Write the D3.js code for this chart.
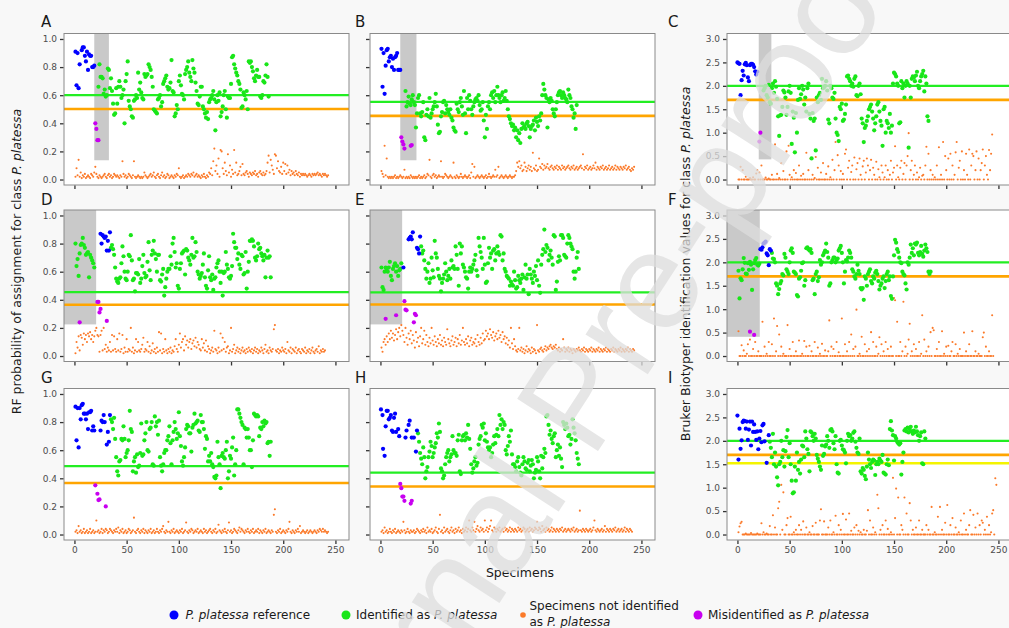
<!DOCTYPE html>
<html><head><meta charset="utf-8">
<script src="https://cdn.jsdelivr.net/npm/d3@7"></script>
<style>
body{margin:0;background:#f8f8f8}
svg{display:block}
text{font-family:"DejaVu Sans",Verdana,sans-serif}
</style>
</head><body>
<svg id="chart" width="1009" height="628"></svg>
<script>
// ---------------- DATA ----------------
const panelIds = ["A","B","C","D","E","F","G","H","I"];
const xTickValues = [0,50,100,150,200,250];
const rfTickValues = [0,0.2,0.4,0.6,0.8,1.0];
const bruTickValues = [0,0.5,1.0,1.5,2.0,2.5,3.0];

const thrGreen  = [0.60,0.552,2.0,0.455,0.453,2.0,0.486,0.441,2.0];
const thrOrange = [0.502,0.453,1.7,0.365,0.367,1.7,0.367,0.342,1.7];
const thrYellowI = 1.52;
// shaded (training) region: [xFrom, xTo, yBottom]
const shadeRegions = [[19,33,0.137],[19,34.5,0.137],[20.4,32.5,0.43],[-10,20.8,0.225],[-10,20.8,0.225],[-10,21.4,0.41],null,null,null];

const orangeStart = 1;
const greenStart = [23,24,25,35,39,33,35,36,31];
const earlyGreenStart = 1;

const blueA=[[1,.91],[2,.67],[3,.9],[4,.65],[5,.82],[7,.92],[8,.94],[9,.94],[10,.88],[11,.84],[12,.91],[13,.78],[14,.89],[15,.88],[16,.88],[17,.8],[18,.8],[19,.81]];
const blueB=[[1,.93],[2,.66],[3,.9],[4,.61],[5,.81],[6,.92],[7,.93],[8,.84],[9,.87],[10,.88],[11,.8],[12,.86],[13,.78],[14,.87],[15,.88],[16,.9],[17,.78],[18,.78],[19,.78]];
const blueC=[[0,2.5],[1,2.48],[2,2.47],[3,1.8],[4,2.12],[5,2.32],[6,2.22],[7,2.46],[8,2.49],[9,2.44],[10,2.18],[11,2.1],[12,2.44],[13,2.47],[14,2.47],[15,2.45],[16,2.4],[17,2.31],[18,2.24],[19,2.3]];
const blueD=[[25,.87],[26,.8],[27,.86],[28,.85],[29,.84],[30,.85],[31,.75],[32,.82],[33,.75],[34,.88]];
const blueE=[[22,.63],[27,.83],[28,.84],[29,.85],[30,.83],[31,.88],[35,.77],[36,.76],[37,.73],[38,.85]];
const blueF=[[22,2.28],[23,2.27],[24,2.32],[25,2.4],[26,2.42],[27,2.44],[28,2.19],[29,2.15],[30,1.94],[31,2.28],[32,2.25]];
const blueG=[[1,.91],[2,.67],[3,.9],[4,.62],[5,.9],[6,.82],[7,.92],[8,.93],[9,.86],[10,.86],[11,.82],[12,.86],[13,.75],[14,.87],[15,.87],[16,.88],[17,.74],[18,.77],[19,.74],[25,.74],[26,.81],[27,.8],[28,.85],[29,.8],[31,.64],[32,.73],[33,.66],[34,.85]];
const blueH=[[0.5,.89],[2,.85],[2.5,.61],[4,.56],[5,.77],[6,.88],[7,.88],[8,.82],[9,.83],[10,.85],[11,.74],[12,.73],[13,.83],[14,.86],[15,.73],[17,.75],[18,.7],[24,.69],[25,.74],[27,.78],[28,.81],[30,.69],[32,.69],[34,.59],[35,.74]];
const blueI=[[0,2.54],[1,1.6],[2,2.26],[3,1.83],[4,2.01],[5,2.4],[6,2.43],[7,2.42],[8,2.26],[9,2.41],[10,2.02],[11,2.24],[12,2.41],[13,1.9],[14,2.41],[15,2.19],[16,2.35],[17,2.19],[18,2.02],[19,2.2],[20,1.82],[21,2.05],[22,2.21],[23,1.97],[24,2.33],[25,2.36],[26,1.99],[28,1.53],[30,2.12]];

const magA=[[20,.4],[21,.36],[22,.28],[23,.28]];
const magB=[[20,.3],[21,.27],[22,.25],[23,.22],[29,.24],[30,.245]];
const magC=[[21,.81],[22,1.0]];
const magD=[[5,.24],[22,.385],[23,.385],[24,.31],[25,.335],[31,.25]];
const magE=[[5,.265],[15,.29],[23,.39],[24,.33],[25,.325],[32,.24],[33,.3],[34,.29]];
const magF=[[12,.52],[16,.45]];
const magG=[[20,.35],[22,.29],[23,.245],[24,.25],[30,.2]];
const magH=[[19,.36],[20,.33],[21,.27],[22,.27],[23,.24],[29,.22],[30,.24]];
const magI=[];

const earlyGreenD=[.8,.64,.69,.57,.73,.79,.8,.84,.79,.77,.72,.73,.74,.56,.72,.7,.68,.66,.63];
const earlyGreenE=[.63,.49,.47,.6,.63,.62,.6,.63,.67,.57,.54,.62,.64,.66,.6,.64,.57,.61,.62,.66];
const earlyGreenF=[1.82,1.23,1.66,1.62,1.85,2.09,1.99,1.76,1.75,1.98,1.84,2.01,1.95,1.41,1.85,1.98,2.05,2.09,1.95,1.93,1.97];

const greenA=[.66,.82,.73,.73,.72,.61,.64,.59,.6,.79,.78,.65,.72,
.63,.54,.46,.47,.65,.54,.66,.7,.66,.58,.6,.64,.4,.7,.75,.84,.56,.52,.5,.45,
.44,.56,.57,.6,.58,.76,.64,.69,.62,.58,.57,.75,.73,.74,.75,.82,.8,.78,.73,.66,.5,.49,.48,.47,.57,
.58,.6,.52,.55,.68,.7,.72,.74,.66,.64,.65,.69,.85,.63,.62,.45,.47,.53,.5,.7,
.74,.67,.61,.6,.57,.75,.78,.8,.84,.76,.73,.7,.85,.79,.76,.69,.63,.54,.53,.59,
.66,.66,.52,.5,.47,.44,.48,.43,.55,.57,.58,.6,.63,.57,.35,.55,.6,.56,.62,.45,
.48,.52,.6,.63,.5,.44,.59,.58,.58,.68,.87,.88,.82,.79,.76,.74,.7,.68,.64,.51,
.52,.62,.6,.57,.63,.5,.84,.83,.84,.8,.77,.72,.7,.74,.78,.73,.73,.59,.58,.6,.7,.69,.74,.82,.73,.59];
const greenB=[.63,.52,.55,.59,.54,.53,.57,.6,.55,.53,.37,.47,.58,.6,.47,.45,
.48,.55,.3,.28,.46,.5,.45,.58,.44,.47,.5,.52,.55,.61,.52,.39,.33,.34,.45,.48,
.55,.56,.47,.53,.5,.48,.46,.5,.44,.42,.37,.35,.34,.54,.5,.48,.55,.58,.52,.46,
.63,.47,.33,.58,.5,.6,.56,.5,.46,.52,.55,.57,.58,.56,.6,.53,.49,.5,.55,.42,
.3,.46,.36,.52,.55,.5,.6,.62,.58,.63,.55,.6,.66,.6,.58,.55,.6,.62,.56,.58,
.63,.56,.5,.45,.43,.4,.38,.39,.35,.37,.3,.35,.28,.33,.26,.36,.4,.37,.38,.36,
.4,.41,.38,.3,.36,.38,.39,.42,.35,.44,.41,.38,.45,.42,.47,.6,.68,.64,.6,.58,
.37,.57,.55,.58,.56,.5,.47,.45,.5,.55,.6,.62,.63,.6,.58,.62,.6,.58,.57,.55,.64,.6,.58,.52,.5,.44,.47,.36,.53];
const greenC=[1.9,1.95,2.0,1.8,1.75,2.02,1.65,1.62,1.95,2.05,1.85,2.1,1.98,1.72,
1.35,.93,1.37,1.38,1.55,1.9,1.86,1.75,1.38,1.55,1.88,2.0,1.85,.76,1.45,
1.32,.58,1.42,1.0,1.7,1.95,1.72,1.82,2.0,1.92,1.6,1.75,1.45,1.95,2.05,
1.4,1.3,.45,1.42,1.25,1.3,.62,1.75,1.65,1.8,1.85,1.7,2.15,1.95,1.97,
2.0,2.1,1.9,1.28,1.2,2.0,1.95,1.75,1.72,1.85,1.3,1.0,.95,.82,1.55,
1.5,1.62,1.25,1.28,1.4,1.6,2.2,2.22,2.15,2.1,2.0,2.05,1.98,2.15,2.2,
1.8,1.78,2.0,2.05,1.82,1.3,1.2,.8,1.1,1.15,1.25,1.35,1.5,1.55,1.6,
1.45,1.3,1.05,1.2,1.35,1.6,1.65,1.45,1.25,1.15,.72,1.5,1.55,1.0,1.25,
1.2,1.1,1.4,1.0,1.15,2.05,2.28,2.25,2.2,2.05,2.0,1.2,1.22,2.1,1.95,
2.05,1.75,2.0,2.1,2.05,.68,2.0,1.75,2.15,2.2,2.18,2.1,2.22,2.3,2.0,1.95,2.1,2.2,2.25,2.32,1.88,2.2,2.05,1.35,1.25];
const greenD=[.77,.79,.76,.72,.63,.55,.53,.52,.55,.56,.66,.78,.71,.6,.55,
.54,.6,.72,.71,.86,.68,.54,.55,.46,.59,.59,.58,.69,.52,.55,
.64,.72,.59,.56,.57,.67,.81,.61,.54,.72,.75,.82,.73,.69,.6,
.72,.72,.54,.53,.58,.62,.43,.49,.55,.6,.62,.62,.71,.65,.8,
.84,.74,.63,.66,.5,.48,.62,.66,.73,.74,.75,.58,.76,.75,.7,
.68,.65,.72,.84,.7,.71,.81,.74,.6,.58,.55,.57,.59,.65,.73,
.56,.5,.48,.61,.71,.56,.54,.58,.47,.55,.56,.63,.66,.68,.6,
.52,.6,.43,.59,.6,.74,.65,.62,.56,.55,.57,.64,.87,.81,.77,
.77,.69,.73,.65,.62,.72,.71,.58,.59,.74,.48,.6,.67,.82,.82,
.83,.82,.78,.7,.68,.71,.8,.76,.77,.73,.71,.68,.72,.56,.7,.75,.7,.71,.56];
const greenE=[.78,.73,.75,.68,.62,.55,.6,.66,.52,.55,.7,.61,.56,.82,.73,
.7,.62,.57,.55,.46,.52,.55,.58,.66,.6,.54,.57,.62,.55,.68,
.63,.64,.62,.78,.72,.62,.5,.8,.73,.78,.65,.63,.6,.56,.55,
.48,.6,.63,.6,.62,.65,.68,.72,.61,.57,.84,.78,.74,.7,.62,
.84,.65,.52,.53,.66,.77,.7,.73,.62,.75,.76,.68,.73,.78,.74,
.72,.86,.85,.68,.73,.62,.6,.57,.56,.55,.5,.53,.51,.5,.6,
.54,.48,.49,.57,.54,.52,.55,.58,.47,.56,.65,.55,.58,.44,.62,
.58,.55,.52,.6,.57,.64,.54,.68,.5,.45,.65,.72,.76,.9,.74,
.79,.77,.68,.72,.75,.7,.65,.86,.85,.47,.53,.67,.71,.68,.86,
.86,.84,.72,.71,.7,.8,.86,.84,.8,.78,.76,.6,.55,.6,.7,.74,.62];
const greenF=[2.2,2.08,2.07,2.0,1.55,1.5,1.32,1.43,1.55,1.6,1.75,1.72,2.18,2.1,1.85,1.8,1.75,2.0,2.25,2.3,
2.2,1.8,1.78,1.75,1.3,1.27,1.65,1.68,1.82,1.98,2.0,1.5,1.62,2.3,2.32,2.28,2.25,
2.28,2.2,1.62,1.65,1.32,1.75,1.8,1.6,1.68,2.05,1.95,2.0,2.15,2.2,2.25,2.4,
2.22,2.1,1.5,1.55,2.0,2.05,2.1,2.1,2.0,2.05,2.08,2.25,2.3,2.35,2.2,2.0,
1.55,1.8,2.05,2.02,2.1,2.25,2.2,2.1,1.85,1.8,1.7,1.65,1.75,1.95,1.82,1.75,
1.45,1.42,1.45,1.2,1.7,1.65,1.5,1.75,1.8,1.85,1.6,1.55,1.7,1.65,1.78,1.82,
1.75,1.6,1.42,1.5,1.55,1.65,1.7,1.45,1.6,1.75,1.8,1.62,1.7,1.28,1.22,1.7,
2.15,2.48,2.42,2.28,2.22,2.1,2.0,1.98,1.8,1.75,1.72,1.55,1.42,2.0,1.95,2.1,
2.38,2.2,2.3,2.15,2.4,2.38,2.42,2.2,2.15,2.22,2.35,2.18,2.12,2.25,2.38,2.3,2.22,1.8,1.75,1.8];
const greenG=[.82,.8,.75,.83,.68,.55,.45,.42,.52,.53,.68,.67,.77,.68,.55,.58,
.6,.67,.88,.75,.73,.45,.52,.55,.44,.57,.48,.49,.58,.79,
.56,.57,.67,.72,.8,.6,.59,.75,.76,.8,.5,.49,.84,.77,.8,
.71,.81,.55,.49,.45,.5,.58,.6,.6,.67,.7,.77,.65,.5,
.67,.73,.8,.75,.68,.72,.87,.7,.63,.52,.49,.55,.62,.75,
.78,.77,.72,.72,.59,.76,.78,.86,.79,.8,.81,.74,.73,.85,.8,
.8,.75,.61,.7,.68,.52,.56,.52,.58,.5,.48,.41,.4,.42,
.66,.55,.5,.33,.56,.58,.55,.54,.6,.66,.4,.45,.56,.54,.62,
.69,.42,.5,.6,.89,.89,.86,.83,.8,.78,.5,.76,.75,.69,
.75,.69,.6,.6,.48,.67,.86,.85,.84,.85,.84,.7,.76,.75,.8,.77,.81,.79,.8,.65,.66,.56,.66];
const greenH=[.72,.66,.58,.54,.5,.62,.55,.4,.45,.48,.55,.59,.66,.63,.55,
.58,.62,.65,.72,.69,.79,.73,.47,.45,.4,.42,.5,.55,.58,.6,
.52,.55,.57,.7,.6,.58,.58,.56,.67,.71,.45,.43,.67,.7,.71,
.67,.72,.69,.78,.68,.61,.5,.44,.47,.52,.55,.49,.51,.64,.68,
.7,.78,.76,.79,.67,.72,.66,.62,.6,.62,.55,.58,.64,.7,.65,
.71,.75,.7,.85,.78,.82,.75,.8,.78,.6,.57,.63,.7,.66,.74,
.57,.5,.5,.48,.45,.52,.55,.48,.44,.42,.5,.55,.52,.47,.46,
.51,.53,.45,.49,.53,.5,.4,.44,.46,.55,.52,.45,.4,.56,.47,
.55,.61,.58,.84,.85,.78,.71,.74,.68,.65,.7,.72,.55,.6,.64,
.56,.62,.54,.48,.8,.78,.75,.79,.76,.7,.71,.64,.68,.82,.76,.72,.67,.58,.54,.5];
const greenI=[1.98,1.85,1.65,2.15,1.5,1.75,1.45,1.22,1.05,1.5,1.55,2.0,1.65,1.8,
1.45,1.78,2.08,2.23,1.65,1.95,1.5,1.15,.88,.9,1.45,1.15,1.75,1.38,
1.55,1.3,1.6,1.9,1.88,1.65,2.2,2.05,1.82,1.72,1.35,2.2,2.18,2.1,2.0,
2.15,2.05,1.7,1.62,1.55,1.45,1.38,1.9,1.68,1.72,1.88,1.92,2.1,2.0,1.85,
2.23,2.25,2.2,1.95,1.82,2.1,1.5,1.32,1.3,2.0,2.02,1.9,1.82,1.8,1.75,
1.52,2.0,2.15,2.1,2.12,2.0,2.05,2.17,2.2,1.98,1.85,1.75,1.72,2.05,
1.35,1.3,1.42,1.38,1.25,1.18,1.45,1.75,1.6,1.5,1.42,1.55,1.6,1.58,1.27,
1.5,1.55,1.5,1.62,1.58,1.55,1.7,1.32,1.3,1.28,1.5,1.6,1.48,2.25,
2.42,2.22,2.12,1.58,2.1,2.05,1.98,1.95,1.92,1.95,1.28,1.55,1.75,2.22,
2.25,2.2,2.28,2.18,2.25,2.3,2.2,2.15,2.22,2.18,2.3,2.2,2.12,2.0,2.1,2.18,1.52,1.5,2.2,2.05];

const orangeA=[.02,.08,.03,.14,.02,.05,.01,.03,.02,.04,.01,.02,.03,.02,.01,.04,.03,.02,.05,.09,
.04,.02,.01,.03,.02,.01,.02,.03,.04,.02,.01,.03,.04,.02,.03,.01,.02,.04,.03,.02,
.03,.02,.01,.03,.02,.13,.04,.02,.03,.01,.02,.04,.03,.02,.01,.03,.13,.02,.01,.02,
.03,.02,.01,.02,.01,.02,.05,.03,.02,.01,.02,.03,.04,.02,.03,.05,.02,.01,.03,.04,
.02,.01,.03,.05,.02,.03,.01,.02,.04,.03,.01,.02,.03,.02,.01,.03,.02,.04,.03,.08,
.02,.01,.02,.03,.01,.02,.03,.02,.04,.03,.02,.04,.03,.05,.02,.03,.04,.02,.03,.02,
.01,.03,.02,.04,.02,.01,.03,.02,.05,.04,.08,.03,.13,.22,.06,.1,.04,.15,.02,.21,
.2,.08,.04,.12,.06,.03,.18,.05,.1,.02,.07,.04,.21,.05,.12,.03,.04,.06,.09,.03,
.11,.04,.03,.05,.06,.04,.02,.05,.04,.03,.05,.04,.06,.03,.04,.02,.05,.06,.04,.03,
.05,.03,.04,.06,.12,.17,.05,.14,.1,.07,.04,.18,.17,.08,.13,.06,.05,.09,.04,.12,
.06,.11,.04,.1,.05,.07,.03,.06,.04,.05,.03,.06,.04,.03,.05,.02,.04,.03,.04,.03,
.04,.03,.02,.03,.04,.03,.02,.04,.03,.04,.03,.04,.05,.03,.04,.03,.02,.04,.03,.04,.03,.02,.03];
const orangeB=[.06,.04,.02,.24,.03,.15,.02,.01,.02,.01,.02,.01,.02,.03,.01,.02,.01,.02,.03,.02,
.01,.02,.07,.01,.02,.01,.02,.01,.03,.02,.01,.02,.01,.02,.01,.02,.03,.01,.02,.01,
.02,.03,.01,.02,.04,.03,.14,.02,.01,.03,.04,.02,.03,.01,.02,.03,.02,.13,.02,.01,
.02,.04,.03,.02,.01,.02,.03,.02,.01,.12,.02,.01,.03,.02,.01,.02,.04,.02,.01,.02,
.03,.02,.01,.02,.03,.01,.05,.11,.02,.09,.01,.02,.03,.02,.01,.02,.03,.02,.01,.02,
.03,.01,.02,.04,.02,.01,.02,.03,.02,.07,.02,.03,.09,.01,.02,.03,.02,.01,.02,.03,
.02,.01,.02,.03,.02,.01,.02,.02,.03,.06,.12,.09,.13,.08,.1,.06,.07,.12,.09,.06,
.08,.1,.07,.09,.06,.19,.08,.07,.1,.06,.07,.15,.09,.08,.11,.07,.1,.08,.09,.11,
.08,.07,.09,.1,.08,.07,.09,.08,.1,.07,.09,.08,.07,.1,.08,.09,.07,.08,.09,.1,
.08,.07,.09,.08,.1,.07,.08,.09,.07,.08,.09,.1,.08,.18,.07,.09,.08,.1,.07,.08,
.09,.07,.08,.1,.08,.12,.07,.09,.08,.07,.09,.08,.1,.07,.08,.09,.07,.08,.1,.07,
.08,.09,.07,.08,.1,.07,.09,.08,.07,.09,.08,.07,.09,.08,.1,.07,.08,.09,.07,.06,.08,.07,.09];
const orangeC=[0,0,.27,0,.2,0,0,.06,0,0,0,.03,0,0,.05,0,0,.13,.2,0,
.15,0,.3,0,0,0,.04,0,0,.02,0,0,.1,0,0,.75,0,.12,0,.03,
0,.35,0,.18,0,0,.6,0,.72,.1,0,.05,0,.2,0,.14,0,0,.3,0,
.08,0,.12,0,0,.57,0,.2,0,.45,0,.1,0,.03,.48,0,.25,0,0,.15,
0,.35,0,0,.12,0,.28,0,.05,0,.42,0,.2,.8,0,.52,.3,0,.18,0,
.12,0,.55,.64,0,.25,.4,0,.16,.3,0,.47,0,.22,.35,0,.45,.1,0,.28,
.4,0,.15,.45,.3,0,.2,.42,0,.25,.1,0,.38,0,.22,.05,0,.3,.15,0,
.05,.3,0,.2,0,.1,.4,0,.15,.25,.71,0,.3,.05,0,.25,.4,0,.12,.35,
0,.3,.5,.99,0,.2,.4,0,.1,.3,0,.15,0,.05,.25,0,.08,.1,0,.3,
.7,0,.55,0,.2,0,.1,0,.05,0,.3,0,.69,0,.1,0,.8,0,.5,.2,
0,.45,0,.55,0,.3,0,.1,.58,.8,0,.25,.4,0,.6,0,.2,0,.55,.1,
0,.64,0,.3,.55,.5,0,.2,.6,0,.45,0,.2,.35,.64,0,.3,.5,.1,0,.63,.2,.55,.96];
const orangeD=[.02,.1,.06,.14,.04,.15,.13,.08,.16,.12,.15,.1,.16,.14,.17,.12,.15,.1,.14,.18,
.2,.15,.14,.03,.15,.18,.04,.2,.05,.08,.03,.06,.04,.1,.03,.15,.04,.14,.05,.03,
.12,.04,.16,.03,.05,.15,.02,.06,.03,.12,.03,.05,.04,.2,.03,.06,.02,.04,.12,.03,
.1,.04,.03,.05,.08,.13,.03,.05,.04,.1,.03,.07,.02,.04,.09,.03,.05,.02,.06,.03,
.17,.04,.16,.02,.05,.03,.12,.04,.02,.05,.03,.06,.02,.04,.03,.07,.12,.05,.03,.08,
.16,.06,.1,.12,.04,.14,.08,.11,.06,.1,.12,.05,.09,.11,.07,.13,.06,.1,.08,.05,
.04,.12,.06,.09,.04,.11,.03,.07,.05,.02,.04,.06,.03,.18,.05,.04,.02,.06,.03,.16,
.04,.13,.05,.1,.03,.06,.07,.02,.04,.2,.03,.05,.08,.02,.04,.06,.03,.05,.02,.04,
.06,.03,.04,.02,.05,.03,.06,.04,.03,.05,.02,.04,.06,.03,.05,.02,.04,.03,.06,.04,
.02,.05,.08,.03,.04,.02,.06,.04,.03,.05,.19,.22,.04,.03,.05,.02,.04,.03,.06,.04,
.03,.05,.02,.1,.04,.03,.06,.02,.05,.04,.03,.06,.02,.04,.05,.03,.02,.05,.04,.03,
.06,.02,.04,.03,.05,.02,.04,.06,.03,.02,.04,.05,.03,.07,.02,.04,.03,.05,.03,.04];
const orangeE=[.06,.03,.1,.12,.08,.14,.1,.16,.12,.18,.13,.16,.11,.15,.19,.12,.17,.2,.14,.22,
.18,.15,.1,.2,.13,.08,.16,.12,.18,.09,.15,.11,.06,.17,.1,.13,.07,.14,.2,.09,
.12,.18,.08,.15,.1,.07,.13,.09,.2,.11,.08,.14,.1,.07,.12,.09,.15,.08,.11,.07,
.13,.1,.08,.19,.12,.09,.07,.11,.14,.08,.1,.13,.07,.12,.09,.15,.08,.11,.2,.1,
.08,.12,.09,.14,.07,.11,.13,.08,.1,.09,.12,.07,.15,.1,.08,.13,.09,.16,.11,.12,
.18,.14,.16,.12,.19,.15,.13,.17,.11,.14,.16,.12,.18,.13,.15,.1,.17,.12,.14,.09,
.13,.08,.11,.06,.2,.09,.05,.12,.07,.04,.03,.05,.2,.04,.06,.03,.05,.02,.04,.07,
.03,.05,.04,.02,.06,.03,.05,.04,.02,.22,.04,.03,.05,.06,.04,.03,.05,.07,.04,.06,
.05,.07,.08,.06,.05,.07,.06,.08,.05,.04,.06,.03,.05,.04,.12,.06,.03,.05,.04,.06,
.03,.05,.04,.02,.05,.04,.03,.05,.04,.06,.04,.03,.05,.04,.06,.03,.05,.04,.03,.05,
.04,.06,.03,.05,.04,.03,.05,.04,.06,.03,.05,.04,.03,.05,.04,.06,.03,.05,.04,.03,
.05,.04,.06,.03,.05,.04,.03,.05,.04,.06,.03,.05,.04,.03,.05,.04,.06,.03,.05,.04,.03,.05,.04];
const orangeF=[.53,0,0,.23,0,.12,0,0,.05,.25,0,.35,0,0,.15,0,.3,0,0,.1,
0,0,0,.73,0,.2,0,.05,0,.3,0,0,.25,0,.8,0,.1,.64,0,.46,
0,.2,0,.05,0,0,0,.66,0,.15,0,0,.3,0,0,.1,0,0,.33,0,
0,.05,0,.32,0,.2,0,0,.22,0,.1,0,0,.3,0,0,.18,0,.05,0,
.26,0,0,.12,0,0,.1,.76,0,.2,0,.15,0,0,.3,0,.08,0,0,.8,
0,0,.25,0,.1,0,.3,0,.46,0,.15,0,.2,.99,0,0,.05,0,.41,0,
0,.25,0,.1,0,.15,0,.51,0,.3,0,0,.2,0,.05,.4,0,.25,0,.1,
0,.3,0,.15,0,0,.2,0,0,1.24,1.19,0,.73,0,0,.3,0,.1,1.16,0,
.2,0,.05,.35,.69,0,.1,0,.25,0,.15,0,0,.3,0,.05,.87,0,.35,0,
.1,0,.2,0,.51,0,.6,.55,0,0,.15,0,.3,0,0,.53,0,.05,0,.2,
0,.22,0,0,.1,.3,0,0,.25,0,.05,0,.15,0,0,0,.5,0,.1,0,
0,.25,0,0,.53,0,0,.1,0,0,.05,0,0,0,.4,.5,0,.2,0,0,.1,0,0,.87,0];
const orangeG=[.02,.03,.01,.06,.02,.03,.01,.02,.04,.01,.02,.03,.01,.02,.04,.01,.02,.03,.01,.02,
.1,.02,.03,.01,.02,.04,.01,.03,.02,.04,.03,.01,.02,.04,.03,.02,.01,.03,.02,.04,
.02,.05,.01,.03,.02,.04,.01,.02,.03,.01,.02,.04,.03,.01,.02,.03,.12,.02,.01,.03,
.04,.02,.01,.03,.02,.04,.01,.03,.02,.01,.03,.02,.04,.01,.02,.03,.01,.02,.04,.02,
.01,.03,.02,.04,.06,.02,.01,.03,.02,.09,.02,.01,.03,.02,.04,.01,.02,.03,.02,.01,
.03,.02,.04,.01,.02,.03,.085,.02,.01,.03,.02,.04,.03,.01,.02,.03,.02,.04,.01,.02,
.03,.02,.01,.04,.02,.03,.01,.02,.03,.04,.02,.01,.03,.02,.04,.01,.02,.07,.03,.02,
.01,.03,.02,.04,.02,.01,.03,.085,.02,.03,.01,.02,.04,.03,.02,.01,.03,.05,.02,.04,
.03,.02,.01,.03,.02,.04,.02,.01,.03,.02,.04,.01,.02,.03,.02,.04,.01,.03,.02,.01,
.03,.02,.04,.01,.02,.03,.02,.01,.03,.02,.14,.18,.02,.01,.03,.02,.04,.01,.02,.03,
.02,.01,.03,.02,.04,.09,.02,.01,.03,.02,.01,.03,.02,.04,.02,.06,.01,.02,.03,.02,
.01,.02,.03,.01,.02,.03,.02,.01,.02,.03,.02,.01,.03,.02,.04,.03,.02,.04,.02,.03,.02,.01,.02];
const orangeH=[.02,.03,.01,.05,.02,.03,.01,.02,.04,.02,.01,.03,.02,.04,.01,.02,.03,.02,.01,.03,
.02,.09,.03,.01,.02,.04,.02,.01,.03,.02,.02,.03,.01,.02,.04,.03,.02,.01,.03,.02,
.04,.02,.03,.01,.05,.02,.03,.02,.04,.01,.02,.03,.05,.02,.01,.04,.14,.02,.03,.01,
.05,.02,.03,.04,.02,.01,.03,.05,.02,.03,.01,.04,.02,.03,.05,.02,.03,.01,.04,.02,
.03,.05,.02,.04,.1,.03,.02,.05,.03,.09,.02,.04,.06,.03,.02,.05,.03,.04,.02,.1,
.03,.05,.02,.04,.06,.1,.03,.02,.05,.04,.02,.04,.03,.05,.02,.03,.04,.02,.05,.03,
.04,.02,.03,.05,.02,.04,.03,.02,.04,.03,.02,.05,.03,.04,.02,.03,.05,.04,.02,.03,
.04,.02,.05,.03,.04,.02,.03,.05,.04,.09,.03,.05,.04,.02,.06,.03,.04,.02,.05,.03,
.04,.02,.03,.05,.02,.04,.03,.02,.04,.03,.02,.04,.03,.05,.02,.03,.04,.02,.03,.04,
.03,.02,.04,.03,.05,.02,.03,.04,.02,.03,.17,.03,.02,.04,.03,.02,.04,.03,.02,.03,
.04,.02,.03,.05,.1,.03,.02,.04,.03,.02,.03,.04,.02,.03,.06,.02,.04,.03,.02,.04,
.03,.02,.04,.03,.05,.02,.03,.04,.02,.03,.04,.02,.03,.05,.02,.04,.03,.02,.04,.03,.02];
const orangeI=[.05,.17,.24,.27,0,0,0,.02,0,0,0,0,.03,0,0,0,0,0,.02,0,
0,0,.24,0,.05,0,0,.02,0,0,.18,0,0,.41,0,.15,0,0,.56,.7,
0,1.06,.1,.9,0,0,.2,.35,0,0,.38,0,0,.05,0,.1,0,0,.2,0,
.1,0,.28,0,0,.15,0,0,.05,0,0,.18,0,0,.25,0,0,0,.3,.54,
0,0,.28,0,0,0,.15,0,.3,0,0,.05,0,.4,0,0,.2,0,.1,0,
.44,0,0,.32,0,0,.45,0,.08,0,0,.15,0,.2,0,.08,0,.05,0,0,
.1,0,0,.08,.52,0,.3,0,0,.15,0,.05,0,.85,.56,0,.1,0,.2,0,
0,.3,0,.12,0,0,.05,0,1.21,0,.35,.98,0,.79,0,0,.2,.1,0,.79,
0,.45,0,0,.67,.3,0,.1,0,0,.15,0,0,.3,0,0,.1,0,0,0,
.2,0,.1,0,0,.59,0,0,.05,0,0,.38,0,.59,0,.1,0,0,.25,0,
.63,0,0,.2,0,.35,0,0,.15,0,0,.05,0,.3,0,0,.45,0,.1,0,
0,.2,.52,0,0,.42,0,.15,0,.45,0,.2,0,.3,.25,0,.1,0,.38,0,.2,0,.05,.45,.52,0,1.2,1.06];

const legendLabels = [
  [["P. platessa",true],[" reference",false]],
  [["Identified as ",false],["P. platessa",true]],
  [["Specimens not identified",false]],
  [["Misidentified as ",false],["P. platessa",true]]
];
const legendLabelLine2 = [["as ",false],["P. platessa",true]];

// ---------------- DRAW ----------------
const COL = {blue:"#0000ff", green:"#19e619", orange:"#fb7a2a", magenta:"#c800f0",
  lineGreen:"#22ee22", lineOrange:"#ffa500", lineYellow:"#f4f400", shade:"#c9c9c9"};

const blues=[blueA,blueB,blueC,blueD,blueE,blueF,blueG,blueH,blueI];
const mags=[magA,magB,magC,magD,magE,magF,magG,magH,magI];
const greens=[greenA,greenB,greenC,greenD,greenE,greenF,greenG,greenH,greenI];
const earlyGreens=[null,null,null,earlyGreenD,earlyGreenE,earlyGreenF,null,null,null];
const oranges=[orangeA,orangeB,orangeC,orangeD,orangeE,orangeF,orangeG,orangeH,orangeI];

const svg=d3.select("#chart");
const colLeft=[64,370,727], rowTop=[33.5,210,388.5], PW=285, PH=151.5;
const defs=svg.append("defs");

panelIds.forEach((id,i)=>{
  const col=i%3,row=Math.floor(i/3);
  const L=colLeft[col],T=rowTop[row];
  const bruker = col===2;
  const x=d3.scaleLinear().domain([-10,263]).range([L,L+PW]);
  const y=d3.scaleLinear().domain(bruker?[-0.117,3.117]:[-0.039,1.039]).range([T+PH,T]);
  const g=svg.append("g");
  g.append("rect").attr("x",L).attr("y",T).attr("width",PW).attr("height",PH).attr("fill","#fff");
  defs.append("clipPath").attr("id","cp"+i).append("rect").attr("x",L).attr("y",T).attr("width",PW).attr("height",PH);
  const inner=g.append("g").attr("clip-path",`url(#cp${i})`);
  const sh=shadeRegions[i];
  if(sh){
    inner.append("rect").attr("x",x(sh[0])).attr("y",T).attr("width",x(sh[1])-x(sh[0]))
      .attr("height",y(sh[2])-T).attr("fill",COL.shade);
  }
  const oData=oranges[i].map((v,k)=>[orangeStart+k,v]);
  inner.append("g").selectAll("circle").data(oData).join("circle")
    .attr("cx",d=>x(d[0])).attr("cy",d=>y(d[1])).attr("r",1.05).attr("fill",COL.orange);
  const hl=(v,c,w)=>inner.append("line").attr("x1",x(-10)).attr("x2",x(263))
    .attr("y1",y(v)).attr("y2",y(v)).attr("stroke",c).attr("stroke-width",w);
  hl(thrGreen[i],COL.lineGreen,2.2);
  hl(thrOrange[i],COL.lineOrange,2.6);
  if(id==="I") hl(thrYellowI,COL.lineYellow,2.4);
  let gData=greens[i].map((v,k)=>[greenStart[i]+k,v]);
  if(earlyGreens[i]) gData=earlyGreens[i].map((v,k)=>[earlyGreenStart+k,v]).concat(gData);
  const pts=(data,c)=>inner.append("g").selectAll("circle").data(data).join("circle")
    .attr("cx",d=>x(d[0])).attr("cy",d=>y(d[1])).attr("r",2.1).attr("fill",c);
  pts(gData,COL.green);
  pts(blues[i],COL.blue);
  pts(mags[i],COL.magenta);
  g.append("rect").attr("x",L).attr("y",T).attr("width",PW).attr("height",PH)
    .attr("fill","none").attr("stroke","#8a8a8a").attr("stroke-width",1);

  // y axis
  const ya=d3.axisLeft(y).tickValues(bruker?bruTickValues:rfTickValues).tickSize(3.5).tickPadding(3)
    .tickFormat(col===1?"":d3.format(".1f"));
  const yg=g.append("g").attr("transform",`translate(${L-0.5},0)`).call(ya);
  yg.select(".domain").remove();
  yg.selectAll("line").attr("stroke","#333").attr("stroke-width",1.3);
  yg.selectAll("text").attr("fill","#4d4d4d").style("font-size","9px").style("font-family","DejaVu Sans");
  // x axis
  const xa=d3.axisBottom(x).tickValues(xTickValues).tickSize(3.5).tickPadding(3)
    .tickFormat(row===2?d3.format("d"):"");
  const xg=g.append("g").attr("transform",`translate(0,${T+PH+0.5})`).call(xa);
  xg.select(".domain").remove();
  xg.selectAll("line").attr("stroke","#333").attr("stroke-width",1.3);
  xg.selectAll("text").attr("fill","#4d4d4d").style("font-size","9px").style("font-family","DejaVu Sans");

  // panel letter
  svg.append("text").attr("x",[41,355,668][col]).attr("y",[26.5,205,382.5][row])
    .style("font-size","15px").attr("fill","#1a1a1a").text(id);
});

// axis titles
function richText(sel,parts){
  parts.forEach(p=>sel.append("tspan").style("font-style",p[1]?"italic":"normal").text(p[0]));
}
const t1=svg.append("text").attr("transform","translate(17,261.5) rotate(-90)").attr("text-anchor","middle")
  .attr("dy","0.35em").style("font-size","12.5px").attr("fill","#1a1a1a");
richText(t1,[["RF probability of assignment for class ",false],["P. platessa",true]]);
const t2=svg.append("text").attr("transform","translate(686,264) rotate(-90)").attr("text-anchor","middle")
  .attr("dy","0.35em").style("font-size","12.5px").attr("fill","#1a1a1a");
richText(t2,[["Bruker Biotyper identification values for class ",false],["P. platessa",true]]);
svg.append("text").attr("x",520).attr("y",576.5).attr("text-anchor","middle").style("font-size","12.5px")
  .attr("fill","#1a1a1a").text("Specimens");

// legend
const legCols=[COL.blue,COL.green,COL.orange,COL.magenta];
const legDotX=[174,346,523,698], legTextX=[185.5,356,529.5,708], legR=[4.5,4.5,2.8,4.5];
legendLabels.forEach((lab,k)=>{
  svg.append("circle").attr("cx",legDotX[k]).attr("cy",615).attr("r",legR[k]).attr("fill",legCols[k]);
  if(k===2){
    const a=svg.append("text").attr("x",legTextX[k]).attr("y",610).style("font-size","12px").attr("fill","#1a1a1a");
    richText(a,lab);
    const b=svg.append("text").attr("x",legTextX[k]).attr("y",626).style("font-size","12px").attr("fill","#1a1a1a");
    richText(b,legendLabelLine2);
  } else {
    const a=svg.append("text").attr("x",legTextX[k]).attr("y",619).style("font-size","12px").attr("fill","#1a1a1a");
    richText(a,lab);
  }
});

// watermark
svg.append("text").attr("transform","translate(615,425) rotate(-57)").attr("text-anchor","middle")
  .style("font-family","'Liberation Sans',Arial,sans-serif").style("font-size","140px")
  .attr("fill","#dedede").attr("opacity",0.75).text("Journal Pre-proof");
</script>
</body></html>
